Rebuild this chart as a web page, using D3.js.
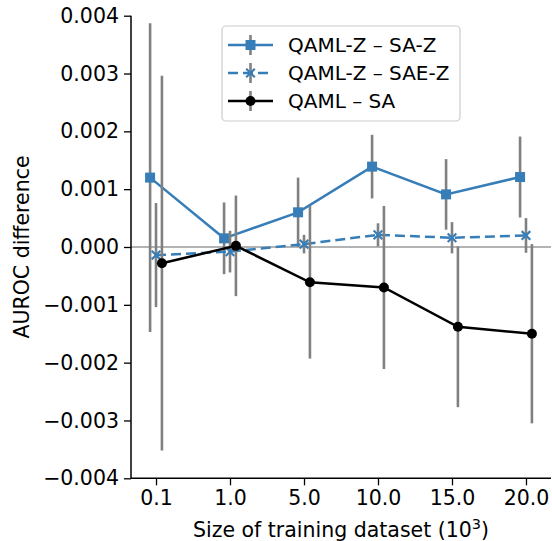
<!DOCTYPE html>
<html>
<head>
<meta charset="utf-8">
<script src="https://cdn.jsdelivr.net/npm/d3@7"></script>
<style>
  body { margin: 0; background: white; }
  svg { font-family: 'DejaVu Sans', sans-serif; }
</style>
</head>
<body>
<div id="graf"></div>
<script>
// Diferencia de AUROC vs tamaño de entrenamiento

sizes    = ['0.1', '1.0', '5.0', '10.0', '15.0', '20.0']
yTicks   = [-0.004, -0.003, -0.002, -0.001, 0, 0.001, 0.002, 0.003, 0.004]

saZ      = [0.0012, 0.00015, 0.0006, 0.00139, 0.00091, 0.00121]
saZErr   = [0.00267, 0.00062, 0.0006, 0.00055, 0.00061, 0.0007]
saeZ     = [-0.00014, -0.00008, 0.00005, 0.00021, 0.00016, 0.0002]
saeZErr  = [0.0009, 0.00036, 0.00016, 0.0002, 0.00027, 0.0003]
sa       = [-0.00028, 0.00002, -0.00061, -0.0007, -0.00138, -0.0015]
saErr    = [0.00324, 0.00087, 0.00132, 0.00141, 0.00139, 0.00155]

labels   = ['QAML-Z – SA-Z', 'QAML-Z – SAE-Z', 'QAML – SA']

azul = '#377eb8'
gris = '#808080'
fs   = '20.5px'

series = [
  { name: labels[0], vals: saZ,  err: saZErr,  color: azul,    marker: 'square', dash: null,   off: -0.08 },
  { name: labels[1], vals: saeZ, err: saeZErr, color: azul,    marker: 'x',      dash: '10,5', off: 0 },
  { name: labels[2], vals: sa,   err: saErr,   color: 'black', marker: 'circle', dash: null,   off: 0.08 }
]

ancho_total = 552
alto_total  = 541

svg = d3.select('#graf').append('svg')
        .attr('width', ancho_total)
        .attr('height', alto_total)

// Escaladores
x = d3.scaleLinear().domain([-0.338, 5.338]).range([131, 551])
y = d3.scaleLinear().domain([-0.004, 0.004]).range([478.3, 15.7])

// linea en cero
svg.append('line')
  .attr('x1', x.range()[0]).attr('x2', x.range()[1])
  .attr('y1', y(0)).attr('y2', y(0))
  .attr('stroke', '#9a9a9a')
  .attr('stroke-width', 1.3)

function marker(sel, kind, color) {
  if (kind == 'square') {
    sel.append('rect')
      .attr('x', -5).attr('y', -5)
      .attr('width', 10).attr('height', 10)
      .attr('fill', color)
  } else if (kind == 'circle') {
    sel.append('circle')
      .attr('r', 5)
      .attr('fill', color)
  } else {
    sel.append('path')
      .attr('d', 'M-4.3,-4.3L4.3,4.3M-4.3,4.3L4.3,-4.3')
      .attr('stroke', color)
      .attr('stroke-width', 2.2)
      .attr('fill', 'none')
  }
}

series.forEach(s => {
  g = svg.append('g')
  pts = s.vals.map((v, i) => ({ i: i, v: v, e: s.err[i] }))

  g.selectAll('line.err')
    .data(pts)
    .enter().append('line')
      .attr('class', 'err')
      .attr('x1', d => x(d.i + s.off))
      .attr('x2', d => x(d.i + s.off))
      .attr('y1', d => y(d.v - d.e))
      .attr('y2', d => y(d.v + d.e))
      .attr('stroke', gris)
      .attr('stroke-width', 2.6)

  linea = d3.line()
            .x(d => x(d.i + s.off))
            .y(d => y(d.v))

  g.append('path')
    .datum(pts)
    .attr('d', linea)
    .attr('fill', 'none')
    .attr('stroke', s.color)
    .attr('stroke-width', 2.5)
    .attr('stroke-dasharray', s.dash)

  g.selectAll('g.mk')
    .data(pts)
    .enter().append('g')
      .attr('class', 'mk')
      .attr('transform', d => `translate(${x(d.i + s.off)},${y(d.v)})`)
      .each(function() { marker(d3.select(this), s.marker, s.color) })
})

// Ejes
fmt = v => (v < 0 ? '\u2212' : '') + Math.abs(v).toFixed(3)

yAxis = d3.axisLeft(y)
          .tickValues(yTicks)
          .tickFormat(fmt)
          .tickSize(7)
          .tickPadding(5)
xAxis = d3.axisBottom(x)
          .tickValues(d3.range(sizes.length))
          .tickFormat(i => sizes[i])
          .tickSize(7)
          .tickPadding(5)

gy = svg.append('g')
        .attr('transform', `translate(${x.range()[0]},0)`)
        .call(yAxis)
gx = svg.append('g')
        .attr('transform', `translate(0,${y.range()[0]})`)
        .call(xAxis)

;[gx, gy].forEach(a => {
  a.select('.domain').attr('stroke', 'black').attr('stroke-width', 1.5)
  a.selectAll('.tick line').attr('stroke', 'black').attr('stroke-width', 1.3)
  a.selectAll('.tick text')
    .attr('fill', 'black')
    .attr('font-size', fs)
    .attr('font-family', 'DejaVu Sans')
})
gx.select('.domain').attr('d', `M${x.range()[0]},0H${x.range()[1]}`)
gy.select('.domain').attr('d', `M0,${y.range()[0]}V${y.range()[1]}`)

// Etiquetas
svg.append('text')
  .attr('transform', `translate(29,${y(0)}) rotate(-90)`)
  .attr('text-anchor', 'middle')
  .attr('font-size', fs)
  .text('AUROC difference')

xl = svg.append('text')
  .attr('x', 341)
  .attr('y', 537)
  .attr('text-anchor', 'middle')
  .attr('font-size', fs)
xl.append('tspan').text('Size of training dataset (10')
xl.append('tspan').attr('dy', -8).attr('font-size', '14.5px').text('3')
xl.append('tspan').attr('dy', 8).text(')')

// Leyenda
leg = svg.append('g')
leg.append('rect')
  .attr('x', 222).attr('y', 26)
  .attr('width', 238).attr('height', 95)
  .attr('rx', 4)
  .attr('fill', 'white')
  .attr('fill-opacity', 0.8)
  .attr('stroke', '#cccccc')
  .attr('stroke-width', 1.2)

series.forEach((s, i) => {
  cy = 45 + i * 28
  item = leg.append('g')
  item.append('line')
    .attr('x1', 228).attr('x2', 273)
    .attr('y1', cy).attr('y2', cy)
    .attr('stroke', s.color)
    .attr('stroke-width', 2.5)
    .attr('stroke-dasharray', s.dash ? '10,5' : null)
  item.append('line')
    .attr('x1', 250.5).attr('x2', 250.5)
    .attr('y1', cy - 10).attr('y2', cy + 10)
    .attr('stroke', gris)
    .attr('stroke-width', 2.6)
  mk = item.append('g').attr('transform', `translate(250.5,${cy})`)
  marker(mk, s.marker, s.color)
  item.append('text')
    .attr('x', 288)
    .attr('y', cy + 7)
    .attr('font-size', '20px')
    .text(s.name)
})
</script>
</body>
</html>
